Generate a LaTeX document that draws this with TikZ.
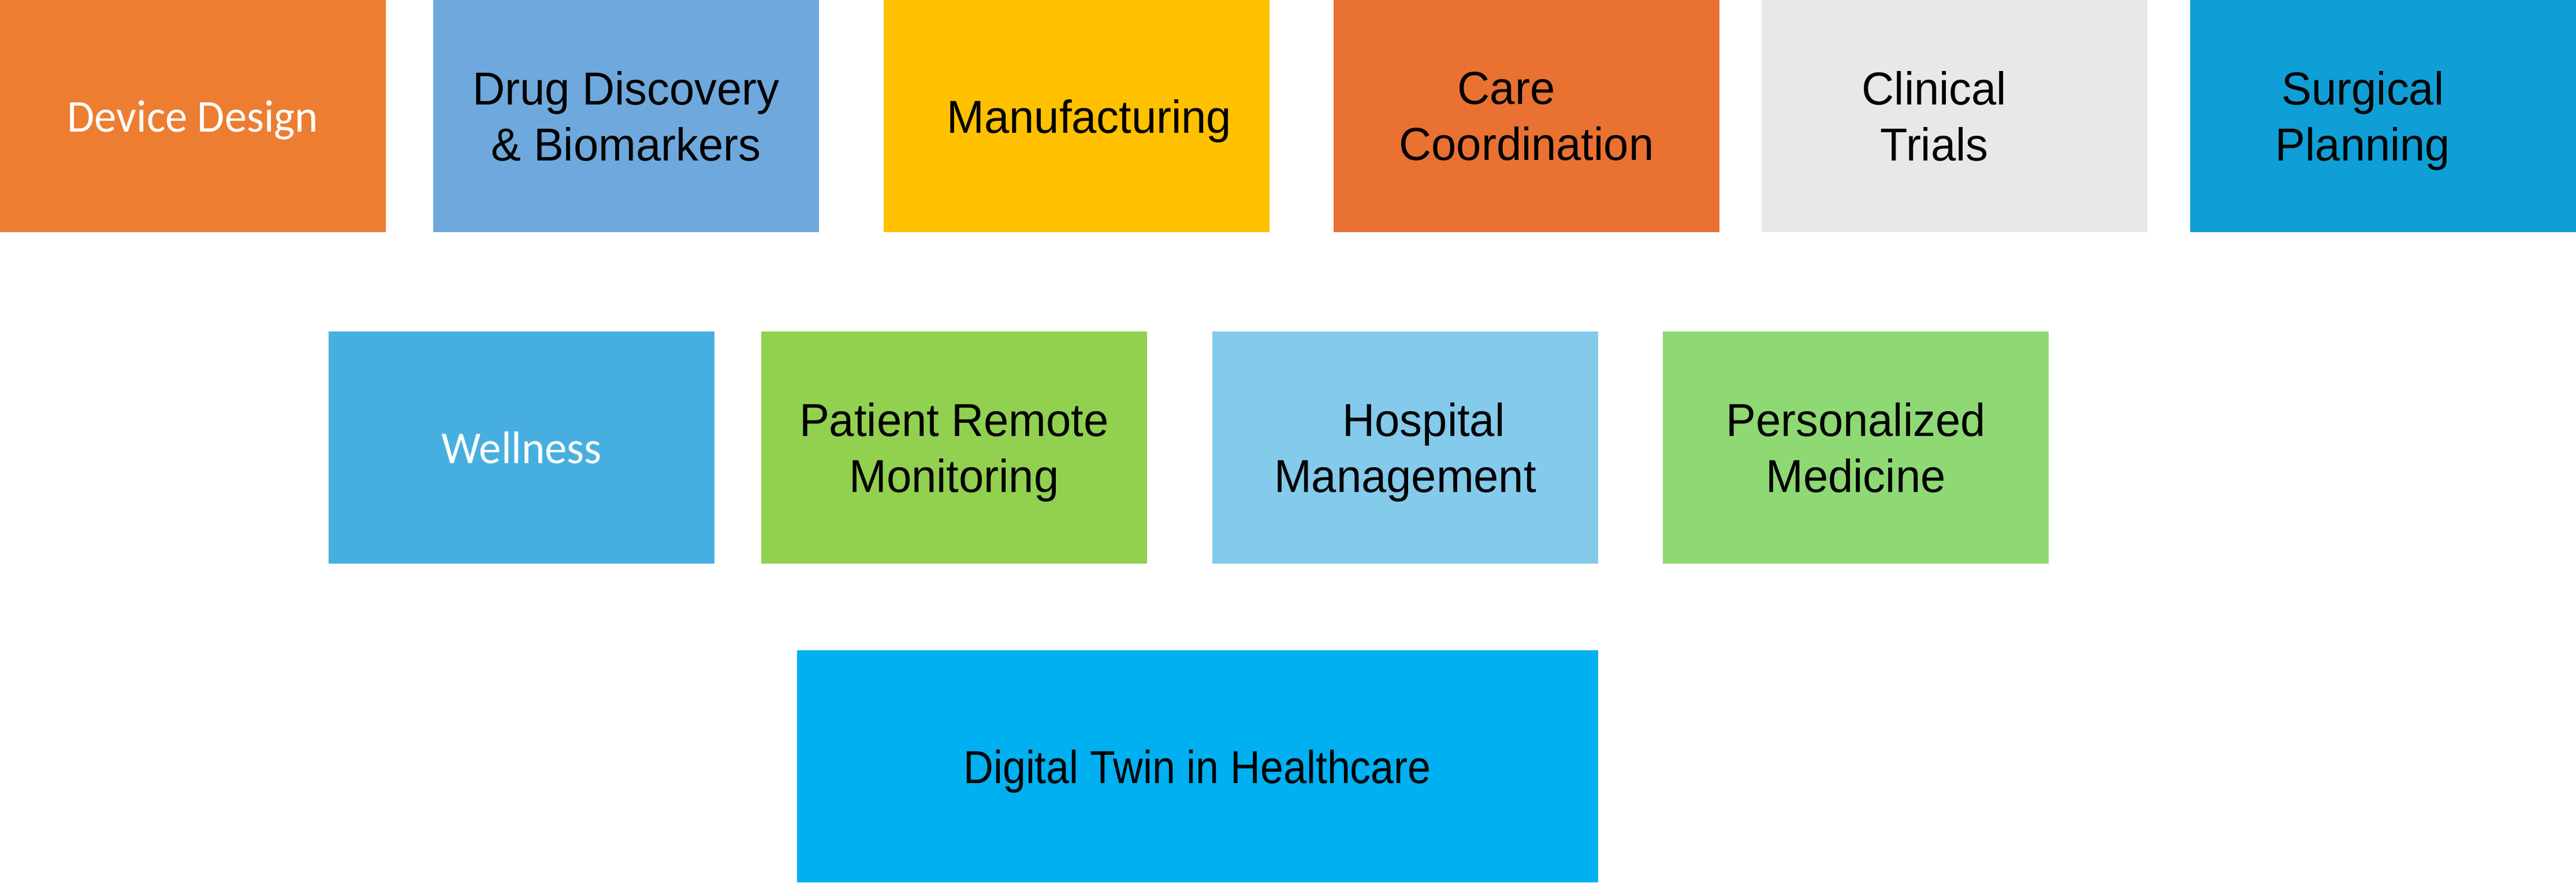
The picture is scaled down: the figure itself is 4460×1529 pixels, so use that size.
\documentclass[tikz,border=0pt]{standalone}
\usepackage{fontspec}
\setmainfont{Liberation Sans}[FakeStretch=0.97]
\newfontfamily\calfont{Carlito}[FakeStretch=0.97]
\newfontfamily\twinfont{Liberation Sans}[FakeStretch=0.895]

\definecolor{devorange}{HTML}{ED7D31}
\definecolor{drugblue}{HTML}{6FA8DC}
\definecolor{manugold}{HTML}{FFC000}
\definecolor{careorange}{HTML}{E97132}
\definecolor{clingray}{HTML}{E8E8E8}
\definecolor{surgblue}{HTML}{0F9ED5}
\definecolor{wellblue}{HTML}{47AFDF}
\definecolor{remotegreen}{HTML}{92D050}
\definecolor{hospblue}{HTML}{83CAEB}
\definecolor{persgreen}{HTML}{8ED973}
\definecolor{twinblue}{HTML}{00B0F0}

\begin{document}
\begin{tikzpicture}[x=0.1mm, y=-0.1mm,
		tile/.style={rectangle, inner sep=0pt, minimum width=6.68cm, minimum height=4.02cm,
			text depth=0pt, align=center, font=\fontsize{22.8}{27.4}\selectfont}]
				\useasboundingbox (0, 0) rectangle (4460, 1529);
				% top row
				\node[tile, fill=devorange, text=white, font=\calfont\fontsize{22.5}{27}\selectfont] (device) at (334, 201) {Device Design};
				\node[tile, fill=drugblue] (drug) at (1084, 201) {Drug Discovery\\\& Biomarkers};
				\node[tile, fill=manugold] (manuf) at (1864, 201) {\hspace*{0.44cm}Manufacturing};
				\node[tile, fill=careorange] (care) at (2643, 201) {Care\hspace*{0.7cm}\\Coordination};
				\node[tile, fill=clingray] (clinical) at (3384, 201) {Clinical\hspace*{0.7cm}\\Trials\hspace*{0.7cm}};
				\node[tile, fill=surgblue] (surgical) at (4126, 201) {Surgical\hspace*{0.7cm}\\Planning\hspace*{0.7cm}};
				% middle row
				\node[tile, fill=wellblue, text=white, font=\calfont\fontsize{22.5}{27}\selectfont] (wellness) at (903, 775) {Wellness};
				\node[tile, fill=remotegreen] (remote) at (1652, 775) {Patient Remote\\Monitoring};
				\node[tile, fill=hospblue] (hospital) at (2433, 775) {\hspace*{0.64cm}Hospital\\Management};
				\node[tile, fill=persgreen] (personal) at (3213, 775) {Personalized\\Medicine};
				% bottom
				\node[tile, fill=twinblue, minimum width=13.87cm, font=\twinfont\fontsize{22.8}{27.4}\selectfont] (twin) at (2073, 1327) {Digital Twin in Healthcare};
			\end{tikzpicture}
\end{document}
